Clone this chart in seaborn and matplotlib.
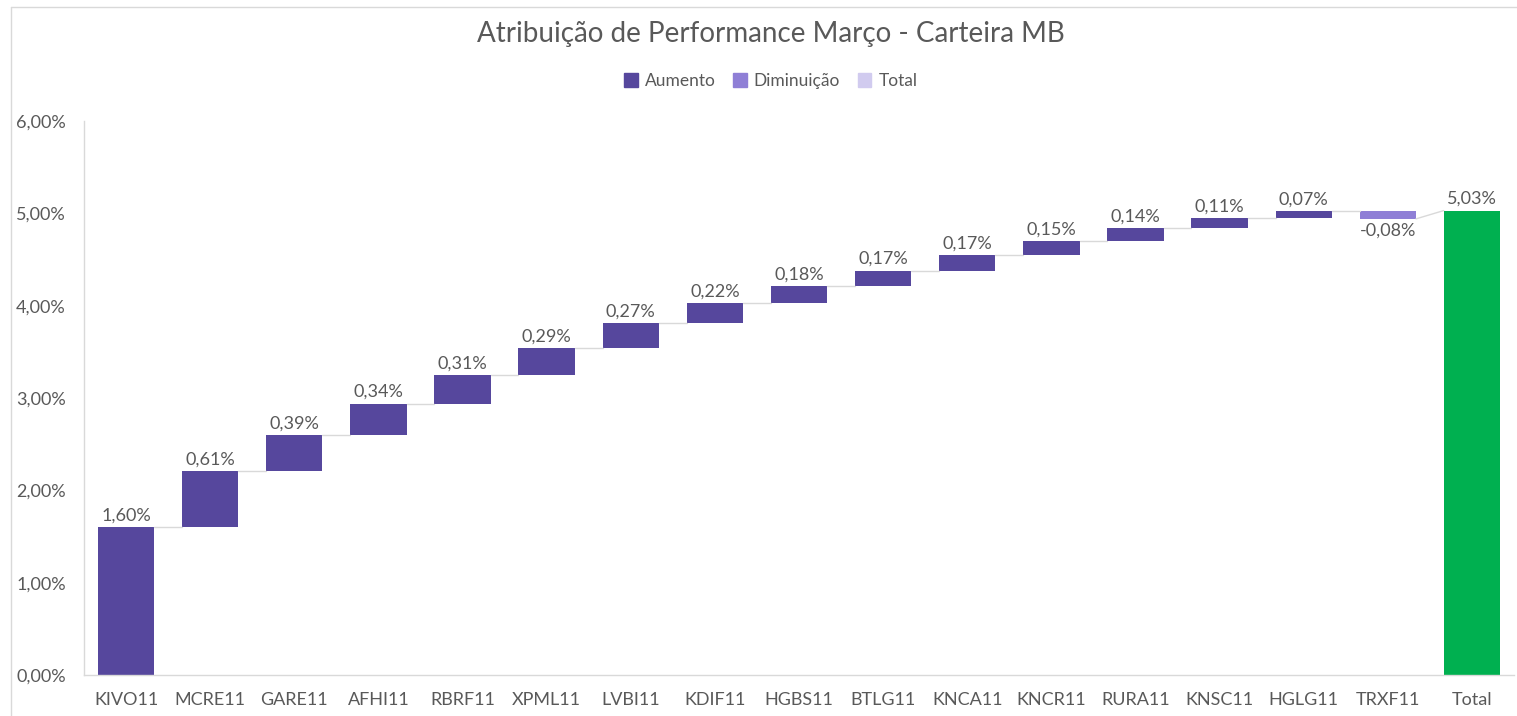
import numpy as np
import matplotlib
matplotlib.use("Agg")
import matplotlib.pyplot as plt
import seaborn as sns
from matplotlib.patches import Patch
from matplotlib.lines import Line2D
from matplotlib.ticker import FuncFormatter

# data
tickers = ["KIVO11", "MCRE11", "GARE11", "AFHI11", "RBRF11", "XPML11", "LVBI11",
           "KDIF11", "HGBS11", "BTLG11", "KNCA11", "KNCR11", "RURA11", "KNSC11",
           "HGLG11", "TRXF11"]
contrib = [1.60, 0.61, 0.39, 0.34, 0.31, 0.29, 0.27, 0.22, 0.18, 0.17, 0.17,
           0.15, 0.14, 0.11, 0.07, -0.08]
total_label = "Total"
total_value = 5.03

C_UP = "#56479D"
C_DOWN = "#8F7FD6"
C_TOT_LEG = "#D1CBEF"
C_TOT = "#00B050"
GREY = "#595959"
LINE = "#D9D9D9"

sns.set_theme(style="white")
plt.rcParams["font.family"] = ["Lato", "DejaVu Sans"]

cats = tickers + [total_label]
ends = np.cumsum(contrib)
starts = np.concatenate([[0], ends[:-1]])
bottoms = list(starts) + [0]
heights = list(contrib) + [total_value]
colors = [C_UP if v >= 0 else C_DOWN for v in contrib] + [C_TOT]

fig = plt.figure(figsize=(15.17, 7.16), dpi=100)
ax = fig.add_axes([84 / 1517, 41 / 716, 1430 / 1517, 554 / 716])

sns.barplot(x=cats, y=heights, bottom=bottoms, order=cats, color=C_UP,
            width=0.67, linewidth=0, ax=ax)
for p, c in zip(ax.patches, colors):
    p.set_facecolor(c)
    p.set_linewidth(0)

# connectors
w = 0.67 / 2
for i in range(len(contrib)):
    y0 = ends[i]
    y1 = y0 if i + 1 < len(contrib) else total_value
    ax.plot([i + w, i + 1 - w], [y0, y1], color=LINE, lw=1, zorder=1)

# labels
fs = 13
for i, v in enumerate(contrib):
    txt = f"{v:.2f}%".replace(".", ",")
    if v >= 0:
        ax.text(i, ends[i] + 0.04, txt, ha="center", va="bottom", fontsize=fs, color=GREY)
    else:
        ax.text(i, ends[i] - 0.04, txt, ha="center", va="top", fontsize=fs, color=GREY)
ax.text(len(contrib), total_value + 0.04, f"{total_value:.2f}%".replace(".", ","),
        ha="center", va="bottom", fontsize=fs, color=GREY)

ax.set_xlim(-0.5, len(cats) - 0.5)
ax.set_ylim(0, 6)
ax.set_yticks(np.arange(0, 7, 1))
ax.yaxis.set_major_formatter(FuncFormatter(lambda v, _: f"{v:.2f}%".replace(".", ",")))
ax.tick_params(axis="both", labelsize=fs, colors=GREY, length=0)
ax.tick_params(axis="y", pad=13)
ax.tick_params(axis="x", pad=12)
for s in ["top", "right"]:
    ax.spines[s].set_visible(False)
for s in ["left", "bottom"]:
    ax.spines[s].set_color(LINE)
    ax.spines[s].set_linewidth(1)
ax.grid(False)

fig.text(0.508, 0.953, "Atribuição de Performance Março - Carteira MB",
         ha="center", va="center", fontsize=20, color=GREY)

handles = [Patch(color=C_UP, label="Aumento"),
           Patch(color=C_DOWN, label="Diminuição"),
           Patch(color=C_TOT_LEG, label="Total")]
fig.legend(handles=handles, loc="center", bbox_to_anchor=(0.508, 0.887), ncol=3,
           frameon=False, fontsize=12.5, labelcolor=GREY, handlelength=0.8,
           handleheight=0.8, handletextpad=0.4, columnspacing=1.0)

# chart-area border (left and top visible)
fig.add_artist(Line2D([10.5 / 1517, 10.5 / 1517], [0, 709.5 / 716],
                      transform=fig.transFigure, color=LINE, lw=1))
fig.add_artist(Line2D([10.5 / 1517, 1], [709.5 / 716, 709.5 / 716],
                      transform=fig.transFigure, color=LINE, lw=1))

fig.savefig("out.png", dpi=100)
